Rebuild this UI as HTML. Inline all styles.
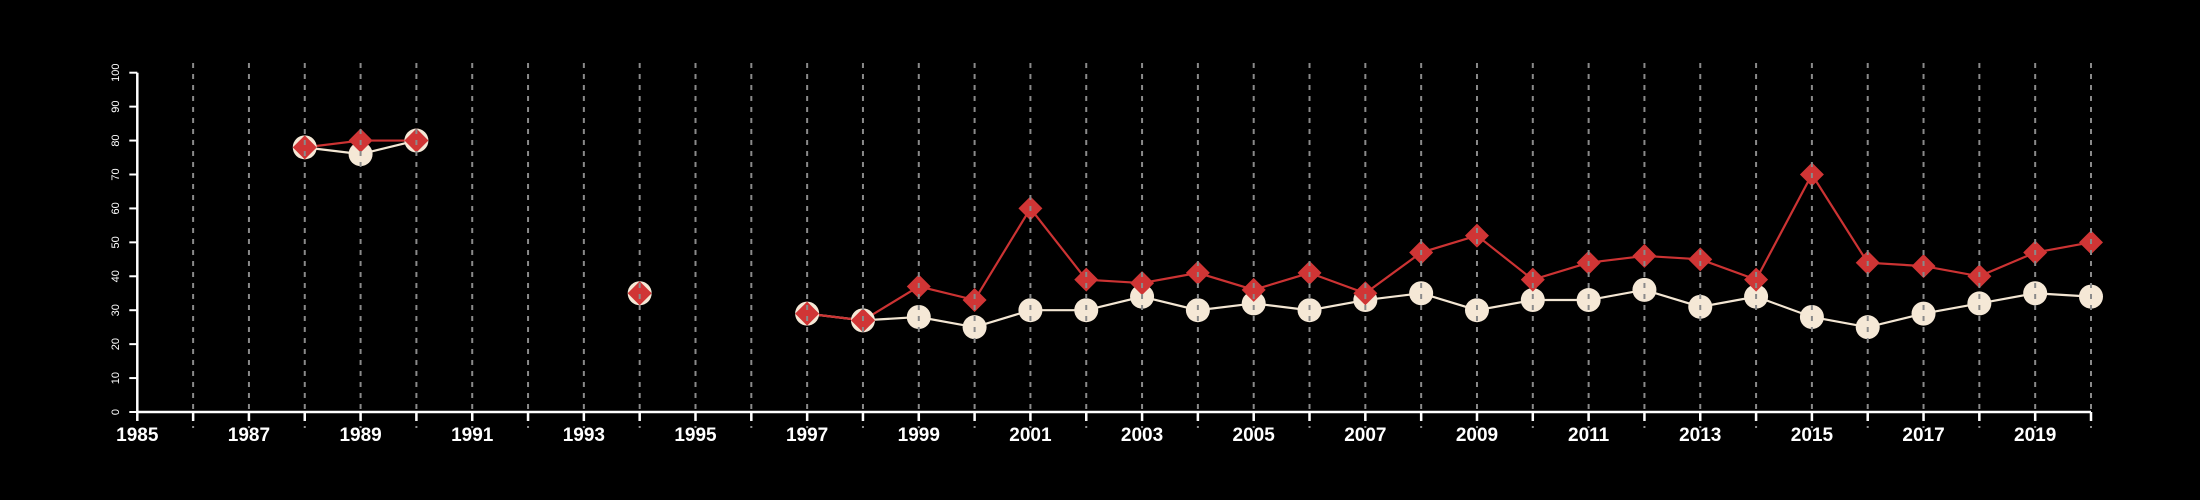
<!DOCTYPE html>
<html><head><meta charset="utf-8"><style>
html,body{margin:0;padding:0;background:#000;}
svg{display:block;}
text{font-family:"Liberation Sans",sans-serif;fill:#fff;}
</style></head><body>
<svg id="chart" width="2200" height="500" viewBox="0 0 2200 500">
<rect width="2200" height="500" fill="#000"/>
<g id="lines"></g><g id="marks"></g><g id="grid"></g><g id="axes"></g>
</svg>
<script>
const years = [1988,1989,1990,1994,1997,1998,1999,2000,2001,2002,2003,2004,2005,2006,2007,2008,2009,2010,2011,2012,2013,2014,2015,2016,2017,2018,2019,2020];
const redValues = [78,80,80,35,29,27,37,33,60,39,38,41,36,41,35,47,52,39,44,46,45,39,70,44,43,40,47,50];
const whiteValues = [78,76,80,35,29,27,28,25,30,30,34,30,32,30,33,35,30,33,33,36,31,34,28,25,29,32,35,34];
const yTicks = [0,10,20,30,40,50,60,70,80,90,100];
const xLabelYears = [1985,1987,1989,1991,1993,1995,1997,1999,2001,2003,2005,2007,2009,2011,2013,2015,2017,2019];

const NS="http://www.w3.org/2000/svg";
const x0=137.3, xPer=55.82, yBase=412, yPer=3.393;
const xs=y=>x0+(y-1985)*xPer;
const ys=v=>yBase-v*yPer;
function el(t,a,p){const e=document.createElementNS(NS,t);for(const k in a)e.setAttribute(k,a[k]);p.appendChild(e);return e;}
const G=id=>document.getElementById(id);

// lines with gaps
function drawLine(vals,color,name){
  let seg=[];
  const flush=()=>{if(seg.length>1){const p=el('polyline',{points:seg.join(' '),fill:'none',stroke:color,'stroke-width':2.2},G('lines'));

}seg=[];};
  years.forEach((yr,i)=>{if(i>0&&yr-years[i-1]>1)flush();seg.push(xs(yr)+','+ys(vals[i]));});
  flush();
}
drawLine(whiteValues,'#f3e6d3','white-series-line');
drawLine(redValues,'#cc3333','red-series-line');
years.forEach((yr,i)=>{
  const c=el('circle',{cx:xs(yr),cy:ys(whiteValues[i]),r:12,fill:'#f5e8d6'},G('marks'));
  
  
});
years.forEach((yr,i)=>{
  const x=xs(yr),y=ys(redValues[i]),s=12;
  const d=el('polygon',{points:`${x},${y-s} ${x+s},${y} ${x},${y+s} ${x-s},${y}`,fill:'#d03535'},G('marks'));
  
  
});
// grid
for(let yr=1986;yr<=2020;yr++){
  const l=el('line',{x1:xs(yr),x2:xs(yr),y1:63,y2:428,stroke:'#8a8a8a','stroke-width':2,'stroke-dasharray':'5,6'},G('grid'));
  
  
}
// axes
const ax=G('axes');
const xa=el('line',{x1:xs(1985),x2:xs(2020),y1:yBase,y2:yBase,stroke:'#fff','stroke-width':2.5},ax);


const ya=el('line',{x1:x0,x2:x0,y1:ys(100),y2:yBase,stroke:'#fff','stroke-width':2.5},ax);


for(let yr=1985;yr<=2020;yr++){el('line',{x1:xs(yr),x2:xs(yr),y1:yBase,y2:yBase+9,stroke:'#fff','stroke-width':2.5},ax);}
xLabelYears.forEach(yr=>{
  const t=el('text',{x:xs(yr),y:441,'text-anchor':'middle','font-size':19,'font-weight':'bold'},ax);
  t.textContent=yr;
  
  
});
yTicks.forEach(v=>{
  el('line',{x1:x0-8,x2:x0,y1:ys(v),y2:ys(v),stroke:'#fff','stroke-width':2},ax);
  const t=el('text',{x:0,y:0,'text-anchor':'middle','font-size':11,transform:`translate(119,${ys(v)}) rotate(-90)`},ax);
  t.textContent=v;
  
  
});
</script>
</body></html>
